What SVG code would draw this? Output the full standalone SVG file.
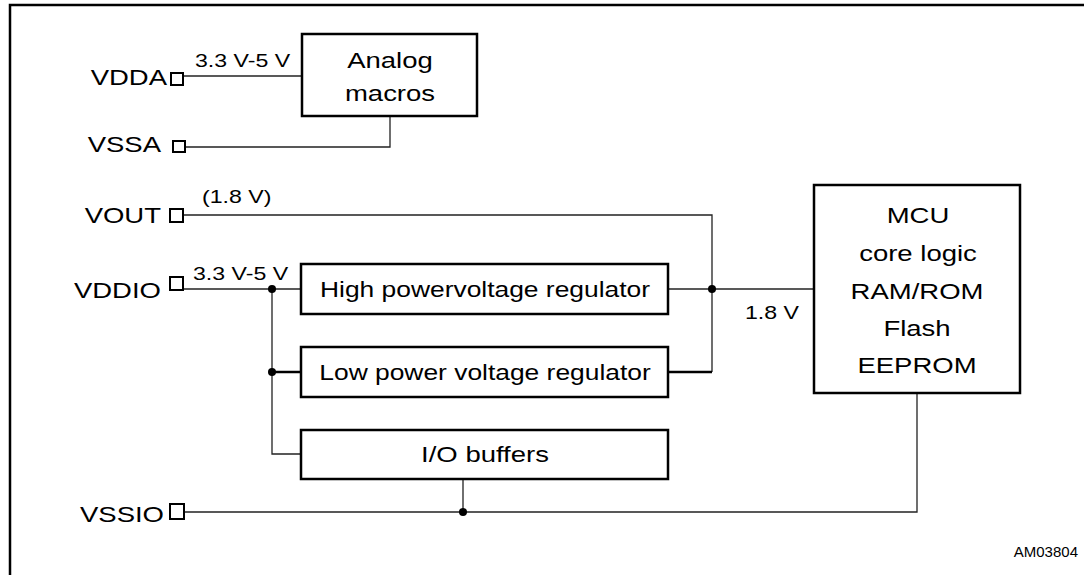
<svg xmlns="http://www.w3.org/2000/svg" width="1084" height="575" viewBox="0 0 1084 575">
<style>
.t{font-family:"Liberation Sans",Arial,sans-serif;fill:#000}
.big{font-size:22px}
.sm{font-size:18.5px}
.box{fill:#fff;stroke:#000;stroke-width:2.5}
.pin{fill:#fff;stroke:#000;stroke-width:2}
.w{fill:none;stroke:#222;stroke-width:1.3}
.wt{fill:none;stroke:#000;stroke-width:2.5}
.dot{fill:#000}
.frame{fill:none;stroke:#000;stroke-width:2.5}
</style>
<rect width="1084" height="575" fill="#fff"/>
<path class="frame" d="M10,575 V5 H1084"/>

<g id="connectors">
<path class="w" d="M183,76 H302"/>
<path class="w" d="M185,147 H390 V116"/>
<path class="w" d="M183,215 H712 V372"/>
<path class="wt" d="M668,372 H712"/>
<path class="w" d="M183,289 H301"/>
<path class="w" d="M272,289 V454 H301"/>
<path class="wt" d="M272,372 H301"/>
<path class="w" d="M668,289 H814"/>
<path class="w" d="M463,479 V512"/>
<path class="w" d="M185,512 H917 V393"/>
<circle class="dot" cx="272" cy="289" r="4"/>
<circle class="dot" cx="272" cy="372" r="4"/>
<circle class="dot" cx="712" cy="289" r="4"/>
<circle class="dot" cx="463" cy="512" r="4"/>
<text class="t sm" transform="translate(195,67) scale(1.25,1)">3.3 V-5 V</text>
<text class="t sm" transform="translate(202,203) scale(1.25,1)">(1.8 V)</text>
<text class="t sm" transform="translate(193,280) scale(1.25,1)">3.3 V-5 V</text>
<text class="t sm" transform="translate(745,319) scale(1.25,1)">1.8 V</text>
</g>

<g id="pin-vdda">
<rect class="pin" x="171" y="73" width="12" height="12"/>
<text class="t big" text-anchor="end" transform="translate(167,85) scale(1.25,1)">VDDA</text>
</g>
<g id="pin-vssa">
<rect class="pin" x="173" y="141" width="12" height="11"/>
<text class="t big" text-anchor="end" transform="translate(161,152) scale(1.25,1)">VSSA</text>
</g>
<g id="pin-vout">
<rect class="pin" x="170" y="209" width="13" height="13"/>
<text class="t big" text-anchor="end" transform="translate(161,223) scale(1.25,1)">VOUT</text>
</g>
<g id="pin-vddio">
<rect class="pin" x="170" y="277" width="13" height="13"/>
<text class="t big" text-anchor="end" transform="translate(161,298) scale(1.25,1)">VDDIO</text>
</g>
<g id="pin-vssio">
<rect class="pin" x="170" y="504" width="14" height="15"/>
<text class="t big" text-anchor="end" transform="translate(164,522) scale(1.25,1)">VSSIO</text>
</g>

<g id="analog-macros">
<rect class="box" x="302" y="34" width="175" height="82"/>
<text class="t big" text-anchor="middle" transform="translate(390,68) scale(1.25,1)">Analog</text>
<text class="t big" text-anchor="middle" transform="translate(390,101) scale(1.25,1)">macros</text>
</g>
<g id="high-power-regulator">
<rect class="box" x="301" y="264" width="367" height="50"/>
<text class="t big" text-anchor="middle" transform="translate(485,297) scale(1.2,1)">High powervoltage regulator</text>
</g>
<g id="low-power-regulator">
<rect class="box" x="301" y="347" width="367" height="50"/>
<text class="t big" text-anchor="middle" transform="translate(485,380) scale(1.2,1)">Low power voltage regulator</text>
</g>
<g id="io-buffers">
<rect class="box" x="301" y="430" width="367" height="49"/>
<text class="t big" text-anchor="middle" transform="translate(485,462) scale(1.25,1)">I/O buffers</text>
</g>
<g id="mcu">
<rect class="box" x="814" y="185" width="206" height="208"/>
<text class="t big" text-anchor="middle" transform="translate(918,223) scale(1.25,1)">MCU</text>
<text class="t big" text-anchor="middle" transform="translate(918,261) scale(1.25,1)">core logic</text>
<text class="t big" text-anchor="middle" transform="translate(917,299) scale(1.25,1)">RAM/ROM</text>
<text class="t big" text-anchor="middle" transform="translate(917,336) scale(1.25,1)">Flash</text>
<text class="t big" text-anchor="middle" transform="translate(917,373) scale(1.25,1)">EEPROM</text>
</g>
<text class="t" font-size="15" text-anchor="end" x="1078" y="557">AM03804</text>
</svg>
